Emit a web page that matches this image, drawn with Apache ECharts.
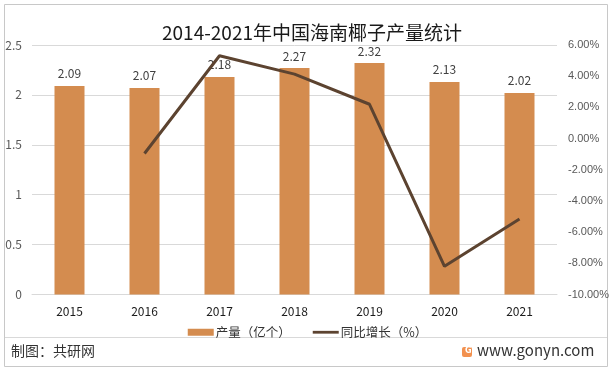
<!DOCTYPE html>
<html>
<head>
<meta charset="utf-8">
<script src="https://cdn.jsdelivr.net/npm/echarts@6/dist/echarts.min.js"></script>
<style>
html,body{margin:0;padding:0;background:#fff;}
#chart{width:615px;height:372px;}
</style>
</head>
<body>
<div id="chart"></div>
<script>
var titleText = '2014-2021年中国海南椰子产量统计';
var categories = ['2015', '2016', '2017', '2018', '2019', '2020', '2021'];
var output = [2.09, 2.07, 2.18, 2.27, 2.32, 2.13, 2.02];
var growth = [null, -0.96, 5.31, 4.13, 2.20, -8.19, -5.16];
var barName = '产量（亿个）';
var lineName = '同比增长（%）';
var footerLeft = '制图：共研网';
var footerRight = 'www.gonyn.com';

var chart = echarts.init(document.getElementById('chart'));
var font = '"Noto Sans CJK SC", "Noto Sans", sans-serif';
var numFont = '"Liberation Sans", Arial, sans-serif';
chart.setOption({
  animation: false,
  backgroundColor: '#fff',
  textStyle: { fontFamily: font },
  title: {
    text: titleText,
    left: 307, top: 18, textAlign: 'center',
    textStyle: { fontSize: 19, fontWeight: 'normal', color: '#1a1a1a', fontFamily: font }
  },
  grid: { left: 32, right: 58, top: 45, bottom: 77.5 },
  legend: {
    data: [
      { name: barName, icon: 'rect' },
      { name: lineName, icon: 'path://M0,0L28,0L28,3L0,3Z' }
    ],
    left: 'center', top: 321,
    itemWidth: 26, itemHeight: 7, itemGap: 22,
    symbolKeepAspect: true,
    textStyle: { fontSize: 12.5, color: '#333', fontFamily: font, padding: [0, 0, 0, -3] }
  },
  xAxis: {
    type: 'category',
    data: categories,
    axisLine: { lineStyle: { color: '#d9d9d9' } },
    axisTick: { show: false },
    axisLabel: { color: '#1a1a1a', fontSize: 12, margin: 11, fontFamily: font }
  },
  yAxis: [
    {
      type: 'value', min: 0, max: 2.5, interval: 0.5,
      axisLine: { show: false }, axisTick: { show: false },
      splitLine: { lineStyle: { color: '#d9d9d9' } },
      axisLabel: { color: '#595959', fontSize: 12, margin: 10, fontFamily: font }
    },
    {
      type: 'value', min: -10, max: 6, interval: 2,
      axisLine: { show: false }, axisTick: { show: false },
      splitLine: { show: false },
      axisLabel: {
        color: '#595959', fontSize: 11, margin: 11, fontFamily: numFont,
        formatter: function (v) { return v.toFixed(2) + '%'; }
      }
    }
  ],
  series: [
    {
      name: barName, type: 'bar', data: output, barWidth: '40%',
      itemStyle: { color: '#D48C4F' },
      label: { show: true, position: 'top', distance: 6, color: '#404040', fontSize: 12, fontFamily: font }
    },
    {
      name: lineName, type: 'line', yAxisIndex: 1, data: growth,
      symbol: 'none', connectNulls: false,
      lineStyle: { color: '#5C4330', width: 3 },
      itemStyle: { color: '#5C4330' }
    }
  ],
  graphic: [
    { type: 'rect', shape: { x: 4.5, y: 4.5, width: 603, height: 362 }, style: { fill: 'none', stroke: '#c8c8c8', lineWidth: 1 }, silent: true },
    { type: 'line', shape: { x1: 5, y1: 337.5, x2: 607, y2: 337.5 }, style: { stroke: '#d9d9d9', lineWidth: 1 }, silent: true },
    { type: 'text', left: 11, top: 344, style: { text: footerLeft, fontSize: 14, fill: '#333', fontFamily: font } },
    { type: 'rect', shape: { x: 462, y: 347, width: 10, height: 10, r: 2 }, style: { fill: '#F2914F' } },
    { type: 'text', left: 465, top: 347, style: { text: 'G', fontSize: 8, fontWeight: 'bold', fill: '#fff', fontFamily: 'DejaVu Sans' } },
    { type: 'text', left: 477, top: 343, style: { text: footerRight, fontSize: 15, fill: '#333', fontFamily: font } }
  ]
});
</script>
</body>
</html>
